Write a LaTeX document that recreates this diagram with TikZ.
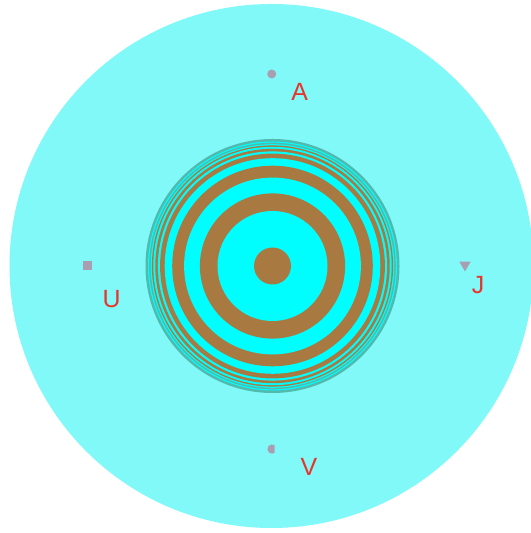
\documentclass[tikz,border=0pt]{standalone}
\usepackage{fontspec}
\setsansfont{Liberation Sans}
\usepackage{xcolor}
\usepackage{tikz}
\usetikzlibrary{shapes.geometric,positioning}
\definecolor{pale}{HTML}{80F9F8}
\definecolor{aqua}{HTML}{00FEFE}
\definecolor{bronze}{HTML}{A87A42}
\definecolor{rim}{HTML}{52B9AC}
\definecolor{markgrey}{HTML}{A8A0B2}
\definecolor{tagred}{HTML}{E8342A}
\tikzset{
  font=\sffamily,
  marker/.style={fill=markgrey, draw=none, inner sep=0pt},
  dotmark/.style={marker, circle, minimum size=9bp},
  boxmark/.style={marker, rectangle, minimum size=9bp},
  trimark/.style={marker, regular polygon, regular polygon sides=3, shape border rotate=180, minimum size=13bp},
  tag/.style={text=tagred, font=\sffamily\fontsize{25}{25}\selectfont, inner sep=0pt}
}
\begin{document}
\begin{tikzpicture}[x=1bp, y=1bp]
  \useasboundingbox (0,0) rectangle (531,533);
  \coordinate (mid) at (272.5,267);

  % pale disc
  \fill[pale] (271.5,267) circle (262);

  % rings, outside in
  \foreach \r/\c in {127/rim, 124.5/aqua, 123.3/rim, 121.8/aqua, 120.6/bronze,
      119.2/aqua, 117.2/bronze, 114.6/aqua, 112.4/bronze, 107.8/aqua,
      100.3/bronze, 88.4/aqua, 72.6/bronze, 55/aqua, 18.5/bronze}
    \fill[\c] (mid) circle (\r);

  % markers and their letters
  \node[dotmark] (ptA) at (271.7,459) {};
  \node[tag] (labA) at ([shift={(28,-18)}]ptA) {A};

  \node[boxmark] (ptU) at (87.7,267.3) {};
  \node[tag] (labU) at ([shift={(24,-33)}]ptU) {U};

  \node[trimark] (ptJ) at (465,268) {};
  \node[tag] (labJ) at ([shift={(13,-20)}]ptJ) {J};

  \coordinate (ptV) at (272,84);
  \fill[markgrey] ([shift={(55:4.6)}]ptV) arc[start angle=55, end angle=305, radius=4.6] -- cycle;
  \node[tag] (labV) at ([shift={(37,-18)}]ptV) {V};
\end{tikzpicture}
\end{document}
